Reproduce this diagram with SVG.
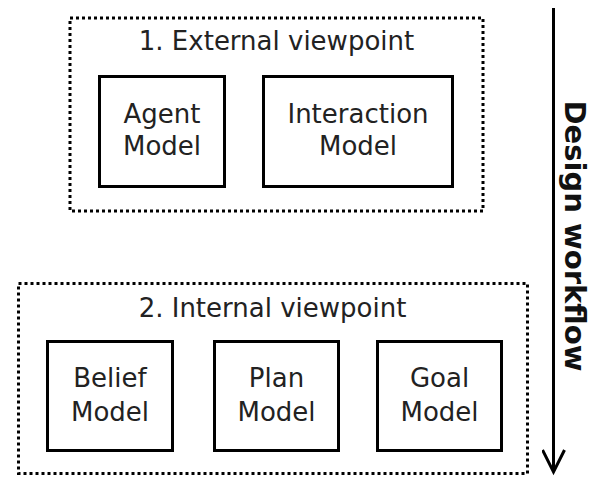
<svg xmlns="http://www.w3.org/2000/svg" width="599" height="479" viewBox="0 0 599 479">
<style>
.grp{fill:none;stroke:#000;stroke-width:3;stroke-dasharray:3 3}
.box{fill:#fff;stroke:#000;stroke-width:3}
text{font-family:"DejaVu Sans",sans-serif;font-size:26px;fill:#222;text-anchor:middle}
.wf{font-weight:bold;font-size:29px;fill:#111}
</style>
<defs>
<marker id="ah" markerWidth="30" markerHeight="30" refX="12" refY="23" orient="0" markerUnits="userSpaceOnUse">
<path d="M1,1 L12,23 L23,1" fill="none" stroke="#000" stroke-width="3"/>
</marker>
</defs>
<g id="external">
<rect class="grp" x="70" y="18" width="413" height="193"/>
<text x="276.5" y="50">1. External viewpoint</text>
</g>
<g id="agent">
<rect class="box" x="99.5" y="76.5" width="125" height="110"/>
<text x="162" y="123">Agent</text>
<text x="162" y="155">Model</text>
</g>
<g id="interaction">
<rect class="box" x="263.5" y="76.5" width="189" height="110"/>
<text x="358" y="123">Interaction</text>
<text x="358" y="155">Model</text>
</g>
<g id="internal">
<rect class="grp" x="18.5" y="283.5" width="509" height="190"/>
<text x="272.5" y="317">2. Internal viewpoint</text>
</g>
<g id="belief">
<rect class="box" x="47.5" y="341.5" width="125" height="109"/>
<text x="110" y="387">Belief</text>
<text x="110" y="421">Model</text>
</g>
<g id="plan">
<rect class="box" x="214.5" y="341.5" width="124" height="109"/>
<text x="276.5" y="387">Plan</text>
<text x="276.5" y="421">Model</text>
</g>
<g id="goal">
<rect class="box" x="377.5" y="341.5" width="124" height="109"/>
<text x="439.5" y="387">Goal</text>
<text x="439.5" y="421">Model</text>
</g>
<g id="connectors">
<line x1="553.5" y1="8" x2="553.5" y2="472" stroke="#000" stroke-width="3" marker-end="url(#ah)"/>
<text class="wf" transform="translate(565,236) rotate(90)">Design workflow</text>
</g>
</svg>
